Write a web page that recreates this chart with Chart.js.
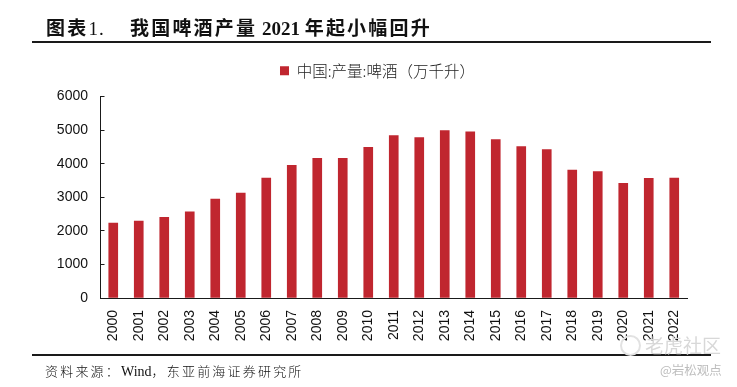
<!DOCTYPE html>
<html lang="zh-CN">
<head>
<meta charset="utf-8">
<script src="https://cdn.jsdelivr.net/npm/chart.js@4"></script>
<style>
html,body{margin:0;padding:0;background:#fff;width:737px;height:387px;overflow:hidden}
#wrap{position:relative;width:737px;height:387px;overflow:hidden}
#c{position:absolute;left:6px;top:0}
.t{position:absolute;white-space:pre;font-family:"Liberation Serif","Noto Sans CJK SC",serif;color:#111}
.r{position:absolute;background:#1a1a1a}
.h{font-size:19px;font-weight:700;line-height:22px;letter-spacing:2.2px;top:18px}
.s{font-size:13px;line-height:18px;font-weight:300;letter-spacing:2.2px;top:363px;left:45px}
.n{letter-spacing:0}
</style>
</head>
<body>
<div id="wrap">
<canvas id="c" width="737" height="387"></canvas>
<div class="t h" style="left:46px">图表<span class="n" style="font-weight:400;letter-spacing:1px">1.</span></div>
<div class="t h" style="left:130px">我国啤酒产量<span class="n"> 2021 </span>年起小幅回升</div>
<div class="r" style="left:32px;top:41px;width:679px;height:2px"></div>
<div class="r" style="left:32px;top:354px;width:679px;height:2px"></div>
<div class="t s">资料来源：<span class="n" style="font-size:14px">Wind</span>，东亚前海证券研究所</div>
<div style="position:absolute;left:620px;top:335px;width:17px;height:17px;border:2px solid #e2e2e2;border-radius:50%"></div>
<div class="t" style="left:645px;top:333px;font-size:19px;line-height:24px;color:#d8d8d8;font-family:'Noto Sans CJK SC'">老虎社区</div>
<div class="t" style="left:660px;top:362px;font-size:12.5px;line-height:16px;color:#bdbdbd;font-family:'Noto Sans CJK SC'">@岩松观点</div>
</div>
<script>
const categories = ["2000","2001","2002","2003","2004","2005","2006","2007","2008","2009","2010","2011","2012","2013","2014","2015","2016","2017","2018","2019","2020","2021","2022"];
const beerOutput = [2231,2289,2403,2564,2949,3126,3569,3954,4156,4160,4483,4834,4779,4983,4950,4716,4506,4421,3812,3765,3411,3562,3569];
const seriesName = "中国:产量:啤酒（万千升）";
const yTicks = [0,1000,2000,3000,4000,5000,6000];
const axisColor = "#1a1a1a";
const barColor = "#c0262f";

new Chart(document.getElementById("c"), {
  type: "bar",
  data: { labels: categories, datasets: [{ label: seriesName, data: beerOutput, backgroundColor: barColor, borderWidth: 0, barThickness: 9 }] },
  options: {
    responsive: false, animation: false, devicePixelRatio: 1,
    layout: { padding: { left: 0, right: 56, top: 56, bottom: 0 } },
    plugins: {
      tooltip: { enabled: false },
      title: { display: false },
      legend: {
        display: true, position: "top", align: "center",
        labels: { boxWidth: 9, boxHeight: 9, padding: 7, color: "#222",
          font: { family: "'Noto Sans CJK SC'", size: 15.5, weight: 300 } }
      }
    },
    scales: {
      x: {
        afterFit(a) { a.height = 89; },
        grid: { display: false, drawTicks: false },
        border: { display: true, color: axisColor, width: 1 },
        ticks: { color: "#111", font: { family: "'Liberation Sans'", size: 14 }, minRotation: 90, maxRotation: 90, autoSkip: false, padding: 12 }
      },
      y: {
        min: 0, max: 6000,
        afterFit(a) { a.width = 94.5; },
        afterBuildTicks(a) { a.ticks = yTicks.map(v => ({ value: v })); },
        grid: { display: true, drawOnChartArea: false, drawTicks: true, tickLength: -4, color: axisColor, lineWidth: 1 },
        border: { display: true, color: axisColor, width: 1 },
        ticks: { color: "#111", font: { family: "'Liberation Sans'", size: 14 }, padding: 16.5, callback: v => String(v) }
      }
    }
  },
  plugins: [{
    id: "legendGap",
    beforeInit(ch) {
      const fit = ch.legend.fit;
      ch.legend.fit = function () { fit.call(this); this.height = 96.5 - 56; };
    },
    afterLayout(ch) { ch.legend.left += 31; ch.legend.right += 31; }
  }]
});
</script>
</body>
</html>
